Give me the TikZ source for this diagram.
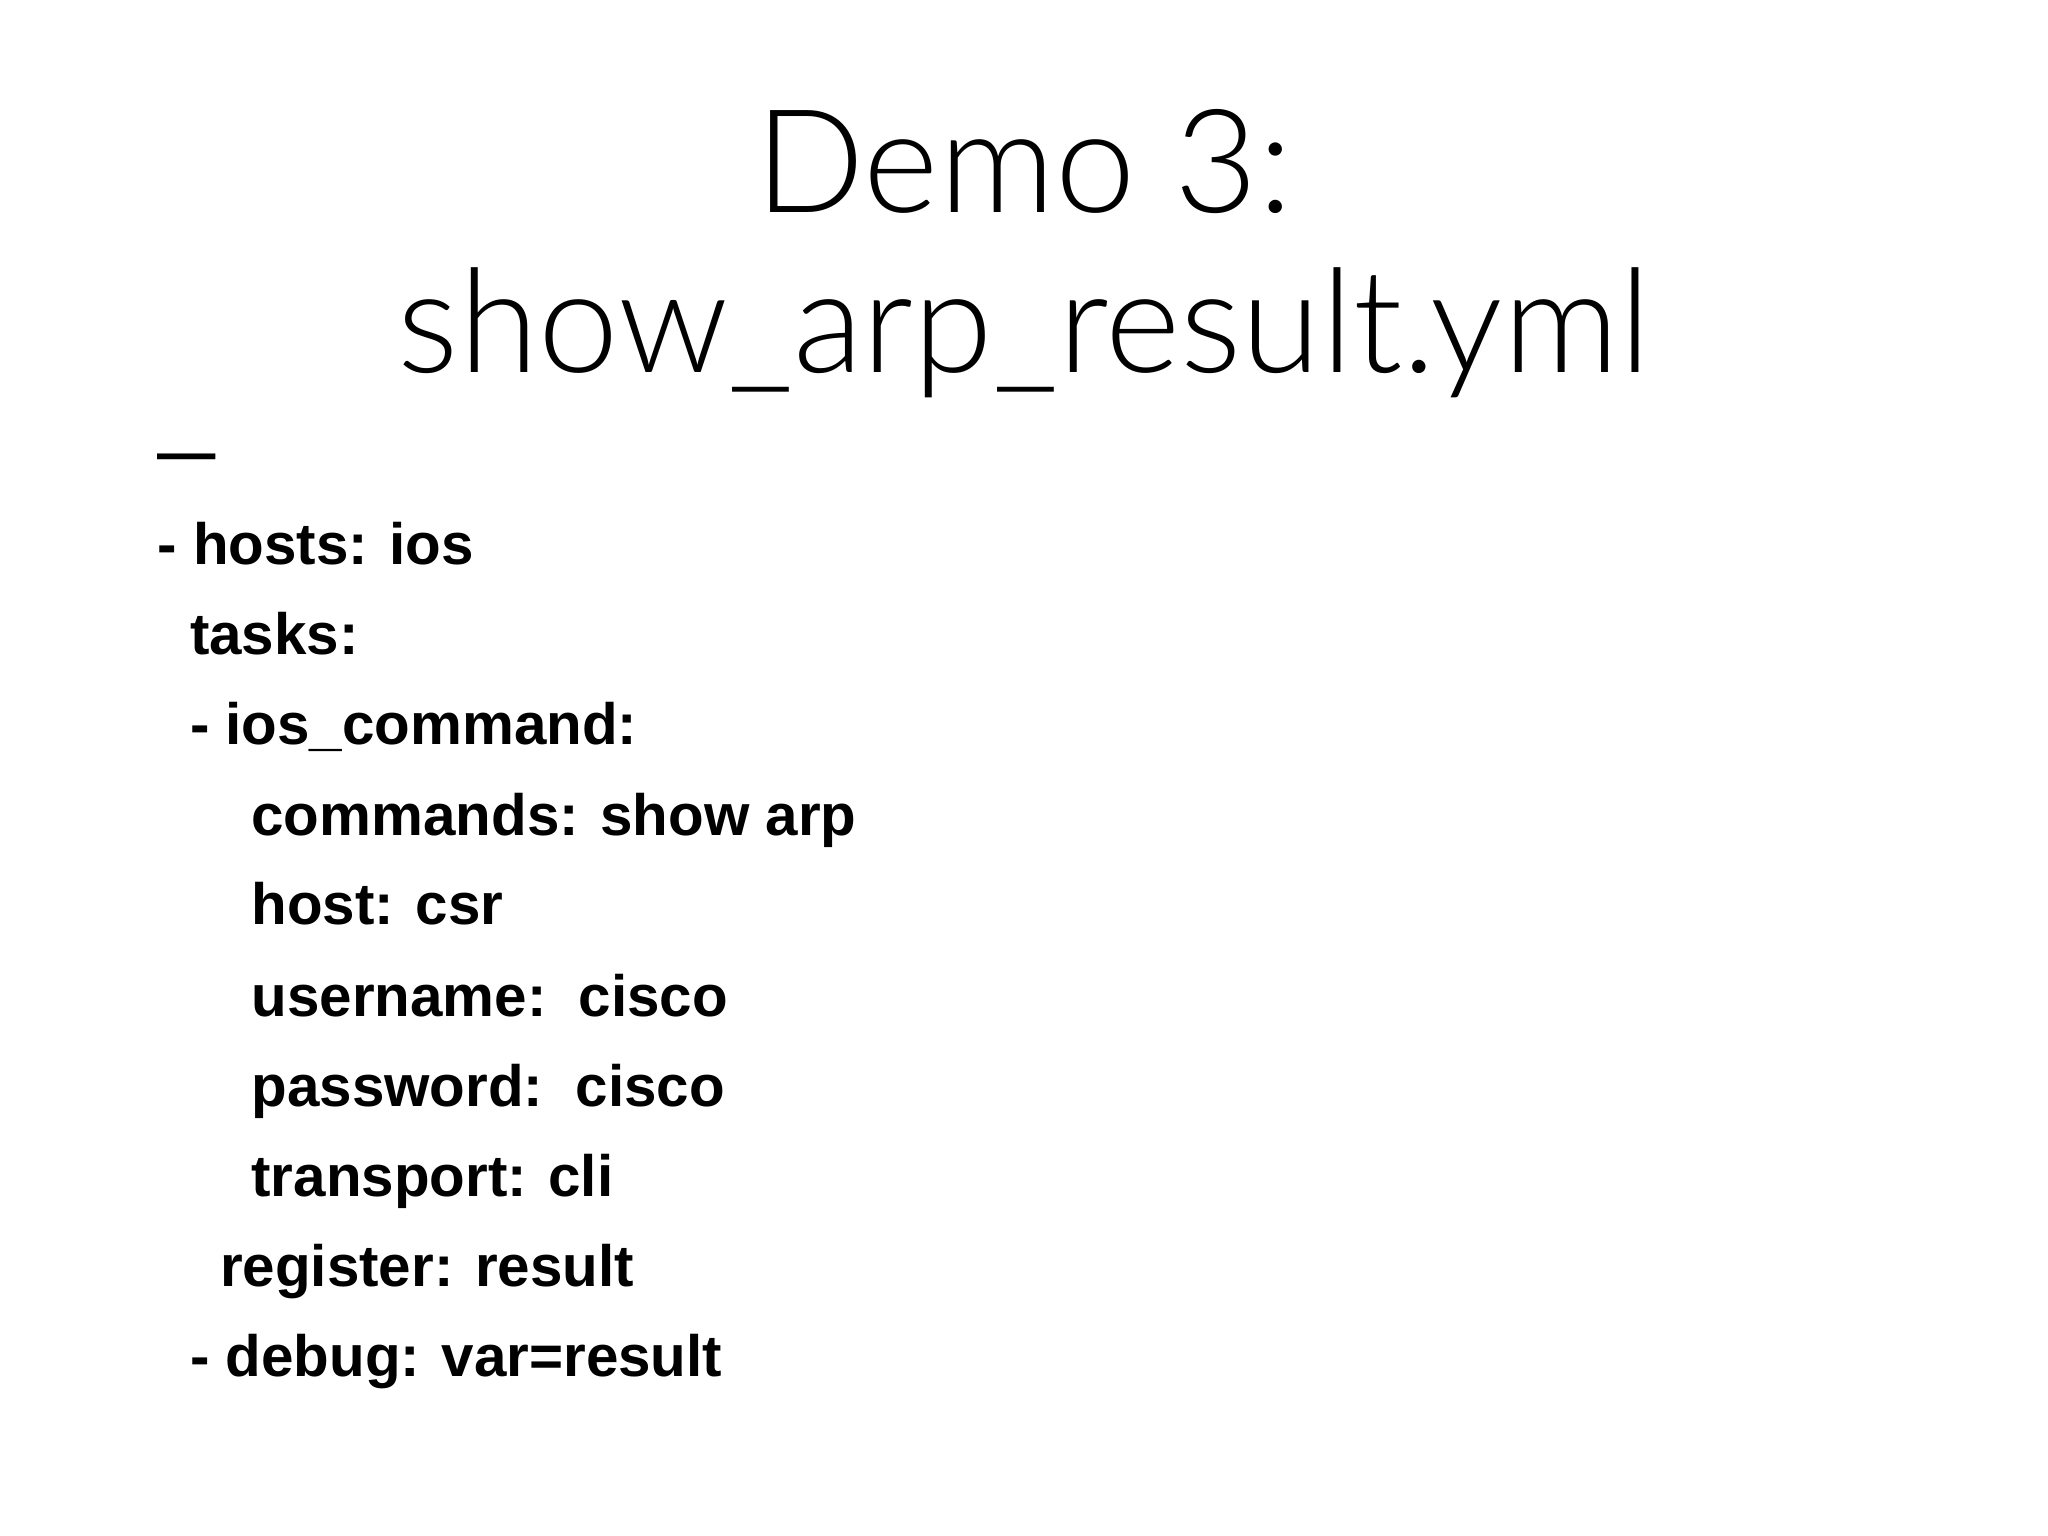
\documentclass[tikz,border=0pt]{standalone}
\usepackage{fontspec}
\setmainfont{Liberation Sans}
\newfontfamily\titlefont{Lato Light}
\begin{document}
\begin{tikzpicture}[x=0.01306cm,y=-0.01306cm,
  code/.style={anchor=base west,inner sep=0pt,font=\fontsize{16.6pt}{20pt}\selectfont\bfseries},
  ttl/.style={anchor=base,inner sep=0pt,font=\titlefont\fontsize{41pt}{48pt}\selectfont}]
\useasboundingbox (0,0) rectangle (1568,1176);
\node[ttl] (t1) at (784,163) {Demo 3:};
\node[ttl] (t2) at (784,285) {show\_arp\_result.yml};
\node[code] (l1) at (120,362) {---};
\node[code] (l2) at (120,432) {- hosts: ios};
\node[code] (l3) at (145,501) {tasks:};
\node[code] (l4) at (145,570) {- ios\_command:};
\node[code] (l5) at (192,640) {commands: show arp};
\node[code] (l6) at (192,708) {host: csr};
\node[code] (l7) at (192,778) {username:\ \ cisco};
\node[code] (l8) at (192,847) {password:\ \ cisco};
\node[code] (l9) at (192,916) {transport: cli};
\node[code] (l10) at (168,985) {register: result};
\node[code] (l11) at (145,1054) {- debug: var=result};
\end{tikzpicture}
\end{document}
